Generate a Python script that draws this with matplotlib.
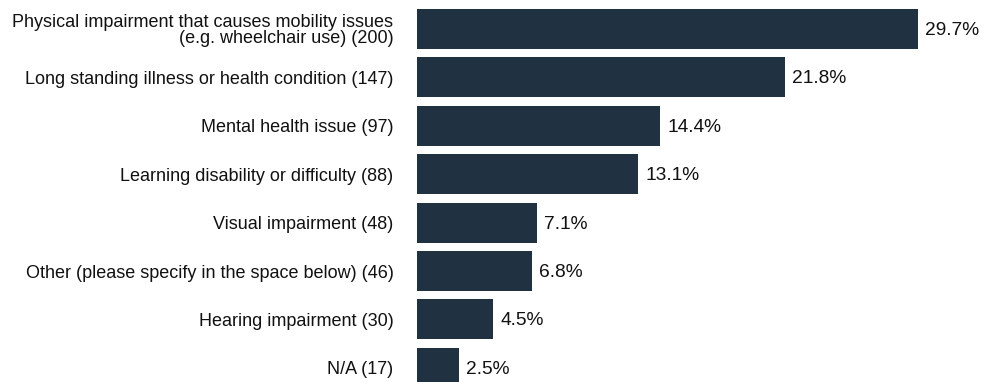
import matplotlib
matplotlib.use("Agg")
import matplotlib.pyplot as plt

categories = [
    "Physical impairment that causes mobility issues\n(e.g. wheelchair use) (200)",
    "Long standing illness or health condition (147)",
    "Mental health issue (97)",
    "Learning disability or difficulty (88)",
    "Visual impairment (48)",
    "Other (please specify in the space below) (46)",
    "Hearing impairment (30)",
    "N/A (17)",
]
percentages = [29.7, 21.8, 14.4, 13.1, 7.1, 6.8, 4.5, 2.5]

BAR_COLOR = "#203142"
TEXT_COLOR = "#111111"

plt.rcParams["font.family"] = ["Liberation Sans", "DejaVu Sans"]

W, H = 984, 382
fig = plt.figure(figsize=(W / 100, H / 100), dpi=100)
ax_left = 417
ax = fig.add_axes([ax_left / W, 0, (W - ax_left) / W, 1])

positions = list(range(len(categories)))
ax.barh(positions, percentages, height=0.826, color=BAR_COLOR)

px_per_unit = 16.87
ax.set_xlim(0, (W - ax_left) / px_per_unit)
ax.set_ylim(7.293, -0.599)

for y, v in zip(positions, percentages):
    ax.text(v + 0.42, y + 0.03, f"{v}%", va="center", ha="left",
            fontsize=13.8, color=TEXT_COLOR)

ax.set_yticks(positions)
ax.set_yticklabels(categories, fontsize=13.0, color=TEXT_COLOR, linespacing=0.95)
for lbl in ax.get_yticklabels():
    lbl.set_horizontalalignment("right")
ax.tick_params(axis="y", length=0, pad=17)
ax.tick_params(axis="x", bottom=False, labelbottom=False)
for s in ax.spines.values():
    s.set_visible(False)

fig.savefig("out.png", dpi=100)
